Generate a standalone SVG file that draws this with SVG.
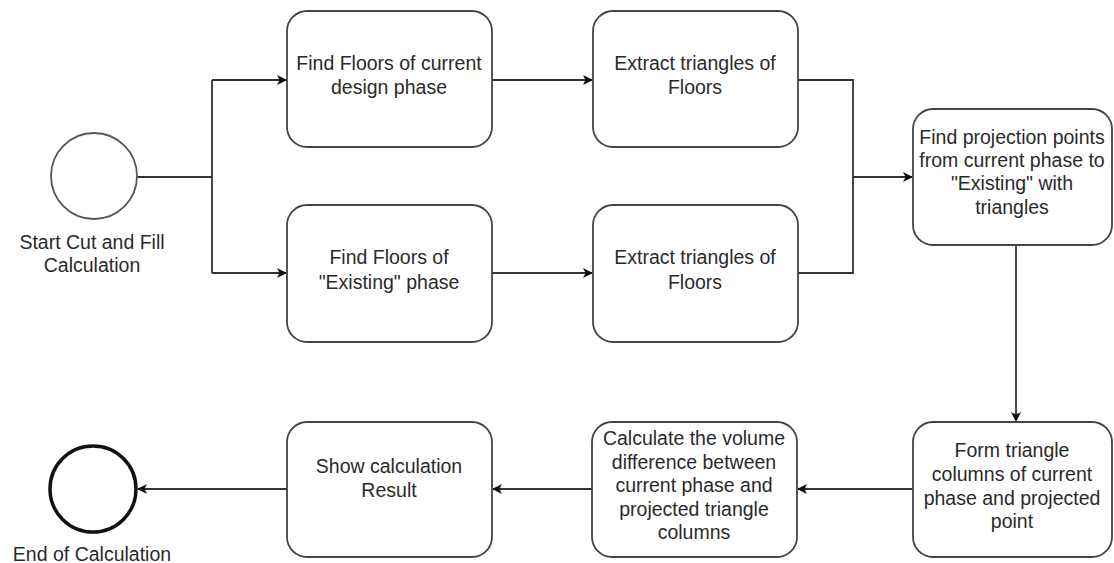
<svg xmlns="http://www.w3.org/2000/svg" width="1114" height="563" viewBox="0 0 1114 563">
<defs>
<marker id="arr" viewBox="0 0 10 10" refX="9" refY="5" markerWidth="11" markerHeight="10" markerUnits="userSpaceOnUse" orient="auto">
<path d="M0,0 L10,5 L0,10 L2.5,5 Z" fill="#111"/>
</marker>
<style>
.box{fill:#fff;stroke:#444;stroke-width:1.8}
.t{font-family:"Liberation Sans",Arial,sans-serif;font-size:19.5px;fill:#2a2a2a;text-anchor:middle}
.c{fill:none;stroke:#333;stroke-width:1.8}
</style>
</defs>
<rect width="1114" height="563" fill="#fff"/>
<g id="connectors">
<path class="c" d="M137,177 H212"/>
<path class="c" d="M212,80 V273"/>
<path class="c" d="M212,80 H286" marker-end="url(#arr)"/>
<path class="c" d="M212,273 H286" marker-end="url(#arr)"/>
<path class="c" d="M492,80 H592" marker-end="url(#arr)"/>
<path class="c" d="M492,273 H592" marker-end="url(#arr)"/>
<path class="c" d="M798,80 H853 V273 H798"/>
<path class="c" d="M853,177 H912" marker-end="url(#arr)"/>
<path class="c" d="M1016,245 V421" marker-end="url(#arr)"/>
<path class="c" d="M913,489 H798" marker-end="url(#arr)"/>
<path class="c" d="M592,489 H493" marker-end="url(#arr)"/>
<path class="c" d="M287,489 H138" marker-end="url(#arr)"/>
</g>
<g id="start">
<circle cx="94" cy="176" r="43" fill="#fff" stroke="#555" stroke-width="1.8"/>
<text class="t" x="92" y="249">Start Cut and Fill</text>
<text class="t" x="92" y="272">Calculation</text>
</g>
<g id="n1">
<rect class="box" x="287" y="11" width="205" height="136" rx="20"/>
<text class="t" x="389" y="70">Find Floors of current</text>
<text class="t" x="389" y="94">design phase</text>
</g>
<g id="n2">
<rect class="box" x="593" y="11" width="205" height="136" rx="20"/>
<text class="t" x="695" y="70">Extract triangles of</text>
<text class="t" x="695" y="94">Floors</text>
</g>
<g id="n3">
<rect class="box" x="287" y="205" width="205" height="137" rx="20"/>
<text class="t" x="389" y="264">Find Floors of</text>
<text class="t" x="389" y="289">"Existing" phase</text>
</g>
<g id="n4">
<rect class="box" x="593" y="205" width="205" height="137" rx="20"/>
<text class="t" x="695" y="264">Extract triangles of</text>
<text class="t" x="695" y="289">Floors</text>
</g>
<g id="n5">
<rect class="box" x="913" y="109" width="199" height="136" rx="20"/>
<text class="t" x="1012" y="144">Find projection points</text>
<text class="t" x="1012" y="167">from current phase to</text>
<text class="t" x="1012" y="190">"Existing" with</text>
<text class="t" x="1012" y="214">triangles</text>
</g>
<g id="n6">
<rect class="box" x="913" y="422" width="199" height="135" rx="20"/>
<text class="t" x="1012" y="457">Form triangle</text>
<text class="t" x="1012" y="481">columns of current</text>
<text class="t" x="1012" y="505">phase and projected</text>
<text class="t" x="1012" y="528">point</text>
</g>
<g id="n7">
<rect class="box" x="592" y="422" width="205" height="135" rx="20"/>
<text class="t" x="694" y="445">Calculate the volume</text>
<text class="t" x="694" y="469">difference between</text>
<text class="t" x="694" y="492">current phase and</text>
<text class="t" x="694" y="516">projected triangle</text>
<text class="t" x="694" y="539">columns</text>
</g>
<g id="n8">
<rect class="box" x="287" y="422" width="205" height="135" rx="20"/>
<text class="t" x="389" y="473">Show calculation</text>
<text class="t" x="389" y="497">Result</text>
</g>
<g id="end">
<circle cx="93" cy="489" r="43" fill="#fff" stroke="#111" stroke-width="3.5"/>
<text class="t" x="92" y="561">End of Calculation</text>
</g>
</svg>
